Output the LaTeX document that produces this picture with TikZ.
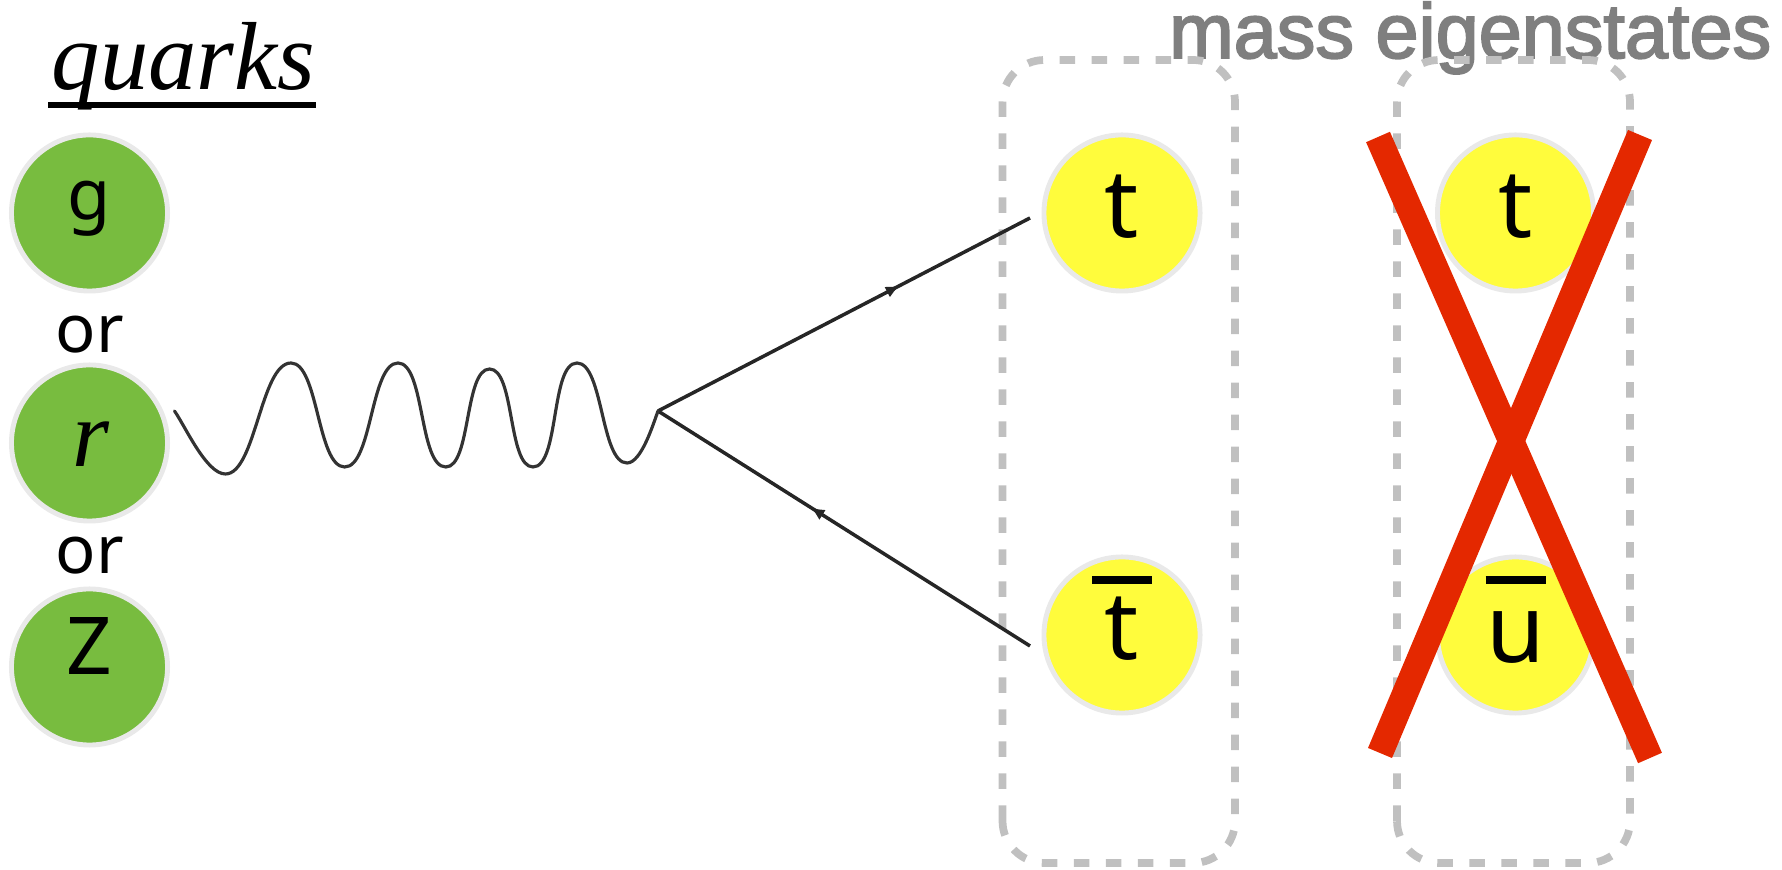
\documentclass[tikz,border=0pt]{standalone}
\usepackage{fontspec}
\setmainfont{Noto Sans}
\newfontfamily\titlefont{Liberation Serif}
\newfontfamily\headfont[FakeBold=2.4]{Liberation Sans}
\usepackage{xcolor}
\usepackage{tikz}
\usetikzlibrary{arrows.meta,decorations.markings}
\definecolor{bosongreen}{HTML}{78BC3F}
\definecolor{quarkyellow}{HTML}{FFFC3C}
\definecolor{rimgray}{HTML}{E9E9E9}
\definecolor{dashgray}{HTML}{C0C0C0}
\definecolor{headgray}{HTML}{7F7F7F}
\definecolor{crossred}{HTML}{E42800}

\begin{document}
\begin{tikzpicture}[x=0.01cm,y=0.01cm,
      ball/.style={circle,draw=rimgray,line width=1.4pt,minimum size=1.56cm,inner sep=0pt},
      bs/.style={ball,fill=bosongreen},
      qk/.style={ball,fill=quarkyellow},
      sym/.style={anchor=base,inner sep=0pt,font=\fontsize{20}{20}\selectfont},
      qsym/.style={anchor=base,inner sep=0pt,font=\fontsize{27}{27}\selectfont},
      orlab/.style={anchor=base,inner sep=0pt,font=\fontsize{19}{19}\selectfont},
      eig/.style={draw=dashgray,line width=2.2pt,rounded corners=0.42cm,dash pattern=on 4.4pt off 4.7pt},
      ferm/.style={line width=1pt,draw=black!85},
      fwd/.style={ferm,postaction={decorate},decoration={markings,mark=at position #1 with {\arrow{Latex[length=4pt,width=3.4pt]}}}},
      wv/.style={line width=0.9pt,draw=black!80,line cap=round,looseness=0.6},
      xbar/.style={line width=7.4pt,draw=crossred},
      ovl/.style={line width=2.3pt,draw=black}]
    \useasboundingbox (0,0) rectangle (1782,870);
    % circles on the left
    \foreach \n/\cy in {g/657,r/427,z/203} {
      \node[bs] (b\n) at (89.5,\cy) {};
    }
    \node[sym] (lg) at (89,650) {g};
    \node[sym,font=\titlefont\itshape\fontsize{27}{27}\selectfont] (lr) at (91,403) {r};
    \node[sym,font=\fontsize{22.7}{22.7}\selectfont] (lz) at (89,195) {Z};
    \node[orlab] (or1) at (90,517) {or};
    \node[orlab] (or2) at (90,296) {or};
    % title
    \node[anchor=base west,inner sep=0pt,font=\titlefont\itshape\fontsize{27.5}{27.5}\selectfont] (qt) at (51,780) {quarks};
    \coordinate (ula) at (48,765);
    \coordinate (ulb) at (316,765);
    \draw[line width=1.5pt] (ula) -- (ulb);
    \node[anchor=base east,inner sep=0pt,text=headgray,font=\headfont\fontsize{22}{22}\selectfont] (me) at (1772,812) {mass eigenstates};
    % boxes
    \draw[eig] (1002.5,7) rectangle (1235,810);
    \draw[eig] (1397,7) rectangle (1630,810);
    % right hand circles
    \foreach \n/\cx/\cy in {a/1122/657,b/1122/235,c/1515.5/657,d/1515.5/235} {
      \node[qk] (q\n) at (\cx,\cy) {};
    }
    \node[qsym] (ta) at (1122,632) {t};
    \node[qsym] (tb) at (1122,210) {t};
    \node[qsym] (tc) at (1515.5,632) {t};
    \node[qsym] (td) at (1515.5,207) {u};
    \draw[ovl] (tb.base)++(-30,80) -- ++(60,0);
    \draw[ovl] (td.base)++(-30,83) -- ++(60,0);
    % diagram
    \coordinate (v) at (658,459);
    \coordinate (ft) at (1030,652);
    \coordinate (fb) at (1030,224);
    \draw[fwd=0.65] (v) -- (ft);
    \draw[fwd=0.59] (fb) -- (v);
    \foreach \i/\wx/\wy in {0/174.5/459,1/225.4/396,2/291/507,3/344.7/403,4/398/507,5/445.8/403,6/489.6/501,7/533/403,8/577/507,9/627/407} {
      \coordinate (w\i) at (\wx,\wy);
    }
    \draw[wv] (w0) to[out=-55,in=180] (w1) to[out=0,in=180] (w2) to[out=0,in=180] (w3)
      to[out=0,in=180] (w4) to[out=0,in=180] (w5) to[out=0,in=180] (w6) to[out=0,in=180] (w7)
      to[out=0,in=180] (w8) to[out=0,in=180] (w9) to[out=0,in=-110] (v);
    % cross
    \coordinate (x1) at (1378,733);
    \coordinate (x2) at (1650,112);
    \coordinate (x3) at (1640,735);
    \coordinate (x4) at (1380,117);
    \draw[xbar] (x1) -- (x2);
    \draw[xbar] (x3) -- (x4);
\end{tikzpicture}
\end{document}
